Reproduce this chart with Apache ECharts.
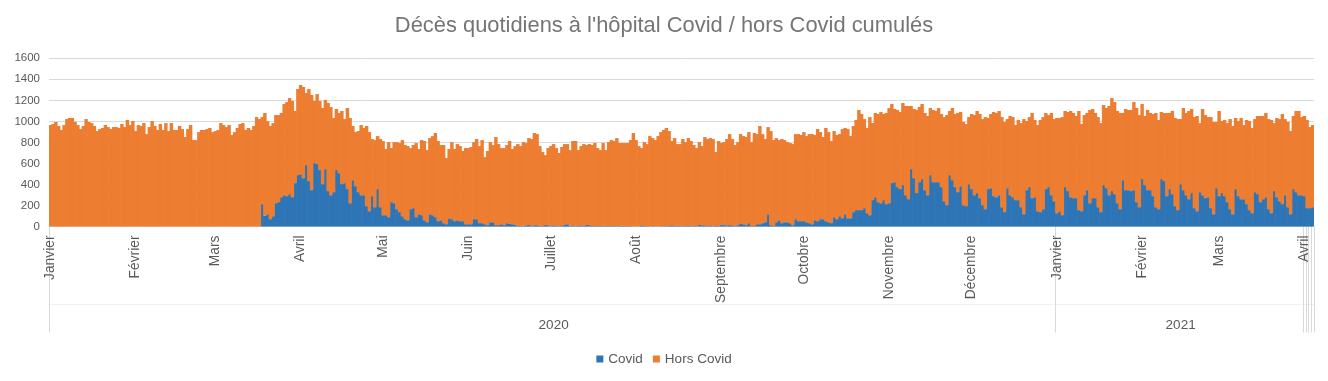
<!DOCTYPE html>
<html><head><meta charset="utf-8">
<script src="https://cdn.jsdelivr.net/npm/echarts@6/dist/echarts.min.js"></script>
<style>html,body{margin:0;padding:0;background:#fff}#c{width:1328px;height:381px}</style>
</head><body><div id="c"></div>
<script>
// ---- data ----
const titleText = "Décès quotidiens à l'hôpital Covid / hors Covid cumulés";
const monthNames = ['Janvier','Février','Mars','Avril','Mai','Juin','Juillet','Août','Septembre','Octobre','Novembre','Décembre'];
const seriesNames = ['Covid', 'Hors Covid'];
const firstDay = '2020-01-01';
const covidFirstDay = '2020-03-18';
const dailyGroupsFrom = '2021-04-01';
const yMin = 0, yMax = 1600, yStep = 200;

// total daily hospital deaths (Covid + hors Covid), one value per day from 2020-01-01
const totalDeaths = [
965,975,994,956,918,965,1022,1032,1032,994,965,927,956,1022,994,984,956,908,927,937,965,946,927,946,946,937,975,946,1013,965,1003,908,965,956,984,879,946,1003,956,918,975,
918,984,908,984,918,918,956,927,851,927,965,822,822,898,918,918,927,937,898,908,918,984,965,946,965,870,898,937,975,984,918,937,918,956,1041,1022,1041,1080,1003,956,984,1060,
1060,1080,1165,1184,1222,1194,1099,1308,1346,1327,1270,1308,1251,1194,1260,1194,1127,1203,1175,1137,1032,1118,1080,1099,1022,1127,1032,956,898,908,965,937,956,898,832,822,860,832,813,737,803,746,
803,803,794,822,775,765,746,775,794,737,822,813,727,841,860,889,813,775,775,651,737,803,737,784,765,718,746,746,756,803,832,765,822,660,718,803,775,851,784,746,746,775,
813,737,765,784,765,803,794,841,832,889,879,765,708,679,746,765,784,746,699,756,784,784,727,813,813,727,765,784,775,784,775,794,746,727,794,727,803,822,813,841,794,794,
794,794,822,889,822,765,746,803,784,860,841,822,860,898,918,937,908,813,841,784,784,832,803,841,813,775,746,803,765,851,832,841,832,708,813,794,803,832,879,832,775,803,879,
860,851,898,803,889,879,956,879,832,946,908,822,841,822,832,822,803,794,784,879,879,870,898,860,879,879,870,927,898,851,937,898,813,908,870,879,927,937,927,860,956,1013,
1108,1070,1022,937,1041,984,1080,1070,1089,1070,1080,1127,1165,1118,1108,1089,1175,1146,1146,1146,1118,1108,1137,1165,1080,1051,1127,1108,1099,1127,1070,1041,1060,1099,1127,1070,1080,1089,994,975,1041,1070,
1060,1099,1070,1022,1041,1032,1070,1089,1080,1099,1041,994,1022,1051,1041,965,1013,984,1022,1003,1041,1080,1013,965,1013,1041,1080,1060,1080,1022,1032,1032,1041,1099,1089,1099,1080,1051,1099,975,1060,1080,1108,
1118,1080,1041,984,1156,1127,1146,1222,1184,1099,1080,1080,1118,1108,1108,1184,1127,1060,1165,1051,1108,1080,1070,1080,1013,1089,1080,1080,1080,1099,1032,1022,1022,1127,1080,1099,1118,1041,1051,984,1118,1060,
1041,1041,994,994,1099,1003,1013,984,1022,956,1032,1003,1032,965,1013,1003,937,1022,1051,1051,1051,1080,1022,1013,984,1032,1022,1070,1022,994,908,1051,1099,1099,1041,1051,1013,946,965
];

// daily Covid hospital deaths, one value per day from 2020-03-18
const covidDeaths = [
213,102,117,70,98,222,
232,279,298,289,308,279,413,489,498,460,584,432,346,603,594,537,403,546,337,298,327,537,508,403,413,356,222,441,384,327,298,298,194,146,289,184,356,184,108,108,89,232,
222,165,137,98,70,60,165,175,89,117,108,60,41,117,108,89,51,60,32,22,79,70,51,60,51,51,22,22,22,70,70,32,32,22,13,41,41,13,13,22,13,32,
25,22,20,5,5,8,12,14,5,12,13,6,5,14,12,4,12,10,4,5,20,22,8,12,3,5,12,6,14,13,5,5,6,4,6,4,5,4,5,3,4,8,
4,4,4,2,2,3,12,4,4,2,4,3,2,4,4,4,4,13,4,10,4,4,4,12,3,5,4,14,12,12,4,12,3,12,4,20,13,12,13,12,4,13,30,
22,13,32,5,5,22,22,32,41,117,13,5,41,60,32,41,41,32,13,70,51,51,51,41,32,22,60,51,70,70,51,41,32,89,70,98,79,117,79,79,137,156,
156,156,175,127,108,251,279,232,222,251,213,222,413,422,375,356,394,298,260,546,460,318,422,451,346,298,489,422,422,422,375,241,203,489,441,375,327,384,203,194,403,356,
298,318,270,203,165,356,365,289,279,298,184,137,365,298,279,251,251,184,117,346,375,270,279,146,137,165,356,375,298,241,127,146,108,375,337,279,270,270,156,146,298,346,222,
270,270,184,137,394,365,298,337,308,222,165,441,346,346,337,346,232,184,451,394,346,346,289,184,165,451,432,289,356,308,194,156,403,346,298,260,318,175,146,327,298,270,
279,175,117,365,289,318,289,232,165,117,356,289,260,260,213,156,127,327,308,232,260,279,165,127,337,279,241,213,298,184,117,356,327,298,298,289,175,175,184
];

// ---- build category axis and series from the arrays ----
const days = [];
const t0 = Date.parse(firstDay + 'T00:00:00Z');
for (let i = 0; i < totalDeaths.length; i++) {
  days.push(new Date(t0 + i * 86400000).toISOString().slice(0, 10));
}
const covidOffset = days.indexOf(covidFirstDay);
const covidData = days.map((d, i) => i < covidOffset ? null : covidDeaths[i - covidOffset]);
const horsData = days.map((d, i) => totalDeaths[i] - (covidData[i] || 0));

const dailyIdx = days.indexOf(dailyGroupsFrom);
const yearCenters = {};
(function () {
  const spans = {};
  days.forEach((d, i) => {
    const y = d.slice(0, 4);
    if (i >= dailyIdx) return;
    if (!spans[y]) spans[y] = [i, i];
    spans[y][1] = i;
  });
  Object.keys(spans).forEach(y => { yearCenters[Math.round((spans[y][0] + spans[y][1] + 1) / 2)] = y; });
})();

const FONT = 'Liberation Sans, Arial, sans-serif';
const BLUE = '#2e75b6', ORANGE = '#ed7d31';
const chart = echarts.init(document.getElementById('c'));
chart.setOption({
  animation: false,
  backgroundColor: '#ffffff',
  textStyle: { fontFamily: FONT },
  title: {
    text: titleText, left: 'center', top: 10,
    textStyle: { color: '#757575', fontSize: 21.9, fontWeight: 'normal', fontFamily: FONT }
  },
  legend: {
    data: seriesNames, left: 'center', top: 347, icon: 'rect', itemWidth: 7, itemHeight: 7, itemGap: 10,
    textStyle: { color: '#595959', fontSize: 13.5, fontFamily: FONT }
  },
  grid: { left: 49, right: 14, top: 58.3, bottom: 154.5, containLabel: false, outerBoundsMode: 'none' },
  xAxis: [{
    type: 'category', data: days, position: 'bottom',
    axisLine: { lineStyle: { color: '#d9d9d9' } },
    axisTick: {
      show: true, length: 106, lineStyle: { color: '#d9d9d9' },
      interval: (i, v) => v.endsWith('-01-01') || i >= dailyIdx
    },
    axisLabel: {
      interval: (i, v) => v.endsWith('-01'),
      formatter: v => monthNames[parseInt(v.slice(5, 7), 10) - 1],
      rotate: 90, margin: 9, color: '#595959', fontSize: 13.8, fontFamily: FONT, hideOverlap: false
    },
    splitLine: { show: false }
  }, {
    type: 'category', data: days, position: 'bottom', offset: 78,
    axisLine: { show: true, lineStyle: { color: '#f0f0f0' } },
    axisTick: { show: false },
    axisLabel: {
      interval: (i) => yearCenters[i] !== undefined,
      formatter: (v, i) => yearCenters[i] || '',
      margin: 14, color: '#595959', fontSize: 13.5, fontFamily: FONT, hideOverlap: false
    },
    splitLine: { show: false }
  }],
  yAxis: {
    type: 'value', min: yMin, max: yMax, interval: yStep,
    axisLine: { show: false }, axisTick: { show: false },
    axisLabel: { color: '#595959', fontSize: 11.5, margin: 9, fontFamily: FONT, formatter: v => String(v) },
    splitLine: { lineStyle: { color: '#d9d9d9' } }
  },
  series: [{
    name: seriesNames[0], type: 'bar', stack: 'total', data: covidData,
    barWidth: '125%', itemStyle: { color: BLUE }
  }, {
    name: seriesNames[1], type: 'bar', stack: 'total', data: horsData,
    barWidth: '125%', itemStyle: { color: ORANGE }
  }]
});
</script></body></html>
